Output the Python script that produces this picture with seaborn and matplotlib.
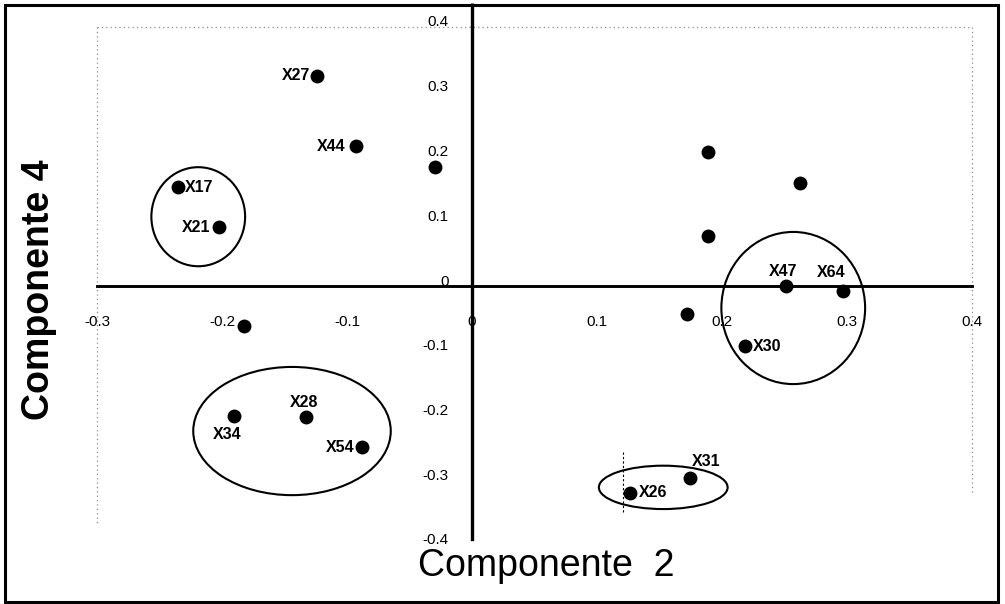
import numpy as np
import pandas as pd
import matplotlib
matplotlib.use("Agg")
import matplotlib.pyplot as plt
import seaborn as sns
from matplotlib.patches import Ellipse, Rectangle
from matplotlib.transforms import ScaledTranslation

# ---------------- data ----------------
names = ["X27", "X44", "", "X17", "X21", "", "X34", "X28", "X54",
         "", "", "", "X47", "X64", "", "X30", "X31", "X26"]
comp2 = [-0.124, -0.093, -0.030, -0.235, -0.202, -0.182, -0.190, -0.133, -0.088,
         0.189, 0.262, 0.189, 0.251, 0.297, 0.172, 0.218, 0.174, 0.126]
comp4 = [0.325, 0.216, 0.184, 0.153, 0.091, -0.062, -0.201, -0.203, -0.249,
         0.207, 0.159, 0.077, 0.000, -0.008, -0.043, -0.093, -0.297, -0.319]

xticks = [-0.3, -0.2, -0.1, 0, 0.1, 0.2, 0.3, 0.4]
xticklabels = ["-0.3", "-0.2", "-0.1", "0", "0.1", "0.2", "0.3", "0.4"]
yticks = [-0.4, -0.3, -0.2, -0.1, 0, 0.1, 0.2, 0.3, 0.4]
yticklabels = ["-0.4", "-0.3", "-0.2", "-0.1", "0", "0.1", "0.2", "0.3", "0.4"]

# group ellipses: centre x, centre y, width, height (data units)
ell_cx = [-0.219, -0.144, 0.257, 0.153]
ell_cy = [0.107, -0.224, -0.034, -0.311]
ell_w = [0.075, 0.158, 0.115, 0.103]
ell_h = [0.153, 0.198, 0.235, 0.067]

x_label = "Componente  2"
y_label = "Componente 4"

df = pd.DataFrame({"c2": comp2, "c4": comp4, "name": names})

# label placement (pixels offset, alignment)
label_place = {
    "X27": (-7, 0, "right"), "X44": (-10, 0, "right"), "X17": (7, -1, "left"),
    "X21": (-9, 0, "right"), "X34": (-7, -18, "center"), "X28": (-2, 15, "center"),
    "X54": (-8, 0, "right"), "X47": (-3, 15, "center"), "X64": (-12, 19, "center"),
    "X30": (8, 0, "left"), "X31": (2, 17, "left"), "X26": (9, 0, "left"),
}

# ---------------- style ----------------
sns.set_style("white")
plt.rcParams["font.family"] = ["Liberation Sans", "DejaVu Sans"]
plt.rcParams["axes.unicode_minus"] = False

fig = plt.figure(figsize=(10.05, 6.04), dpi=100)
W, H = 1005, 604
ax = fig.add_axes([97 / W, (H - 545) / H, (972 - 97) / W, (545 - 27) / H])

sns.scatterplot(data=df, x="c2", y="c4", ax=ax, color="black", s=100,
                edgecolor="black", linewidth=0, marker="o", legend=False, zorder=5)

for _, r in df.iterrows():
    if r["name"]:
        dx, dy, ha = label_place[r["name"]]
        ax.annotate(r["name"], (r["c2"], r["c4"]), xytext=(dx, dy),
                    textcoords="offset pixels", ha=ha, va="center",
                    fontsize=11.5, fontweight="bold", color="black", zorder=6)

for cx, cy, w, h in zip(ell_cx, ell_cy, ell_w, ell_h):
    ax.add_patch(Ellipse((cx, cy), w, h, fill=False, edgecolor="black",
                         linewidth=1.5, zorder=4))

ax.set_xlim(-0.3, 0.4)
ax.set_ylim(-0.4, 0.4)

# axes crossing at the origin
for side in ["top", "right"]:
    ax.spines[side].set_visible(False)
ax.spines["left"].set_position(("data", 0))
ax.spines["bottom"].set_position(("data", 0))
ax.spines["left"].set_linewidth(2.4)
ax.spines["bottom"].set_linewidth(2.1)
ax.spines["left"].set_color("black")
ax.spines["bottom"].set_color("black")
ax.spines["left"].set_bounds(-0.39, 0.4)
ax.plot([0, 0], [0.4, 0.437], color="black", lw=2.4, clip_on=False, solid_capstyle="butt")

ax.set_xticks(xticks)
ax.set_xticklabels(xticklabels)
ax.set_yticks(yticks)
ax.set_yticklabels(yticklabels)
ax.tick_params(axis="x", direction="out", length=4, width=1.2, pad=17,
               labelsize=11, colors="black")
ax.tick_params(axis="y", direction="out", length=3, width=1.2, pad=14,
               labelsize=11, colors="black")
for lab in ax.get_yticklabels():
    lab.set_transform(lab.get_transform() + ScaledTranslation(0, 6 / 100, fig.dpi_scale_trans))
ax.set_xlabel("")
ax.set_ylabel("")

# faint dotted frame of the original plot area
frame_kw = dict(color="0.55", lw=0.9, linestyle=(0, (1, 2.5)), transform=ax.transAxes, clip_on=False)
ax.plot([0, 1], [1, 1], **frame_kw)
ax.plot([1, 1], [1, 0.1], **frame_kw)
ax.plot([0, 0], [1, 0.04], **frame_kw)
# dashed scan mark near X26
ax.plot([0.1205, 0.1205], [-0.256, -0.352], color="black", lw=0.8, linestyle=(0, (2, 2)))

fig.text(546 / W, 1 - 566 / H, x_label, ha="center", va="center", fontsize=27,
         color="black")
fig.text(39 / W, 1 - 290 / H, y_label, ha="center", va="center", rotation=90,
         fontsize=27, fontweight="bold", color="black")

fig.patches.append(Rectangle((5 / W, 0.003), (998 - 5) / W, 1 - 5 / H - 0.003,
                             transform=fig.transFigure, fill=False,
                             edgecolor="black", linewidth=2.2))

fig.savefig("out.png", dpi=100, facecolor="white")
